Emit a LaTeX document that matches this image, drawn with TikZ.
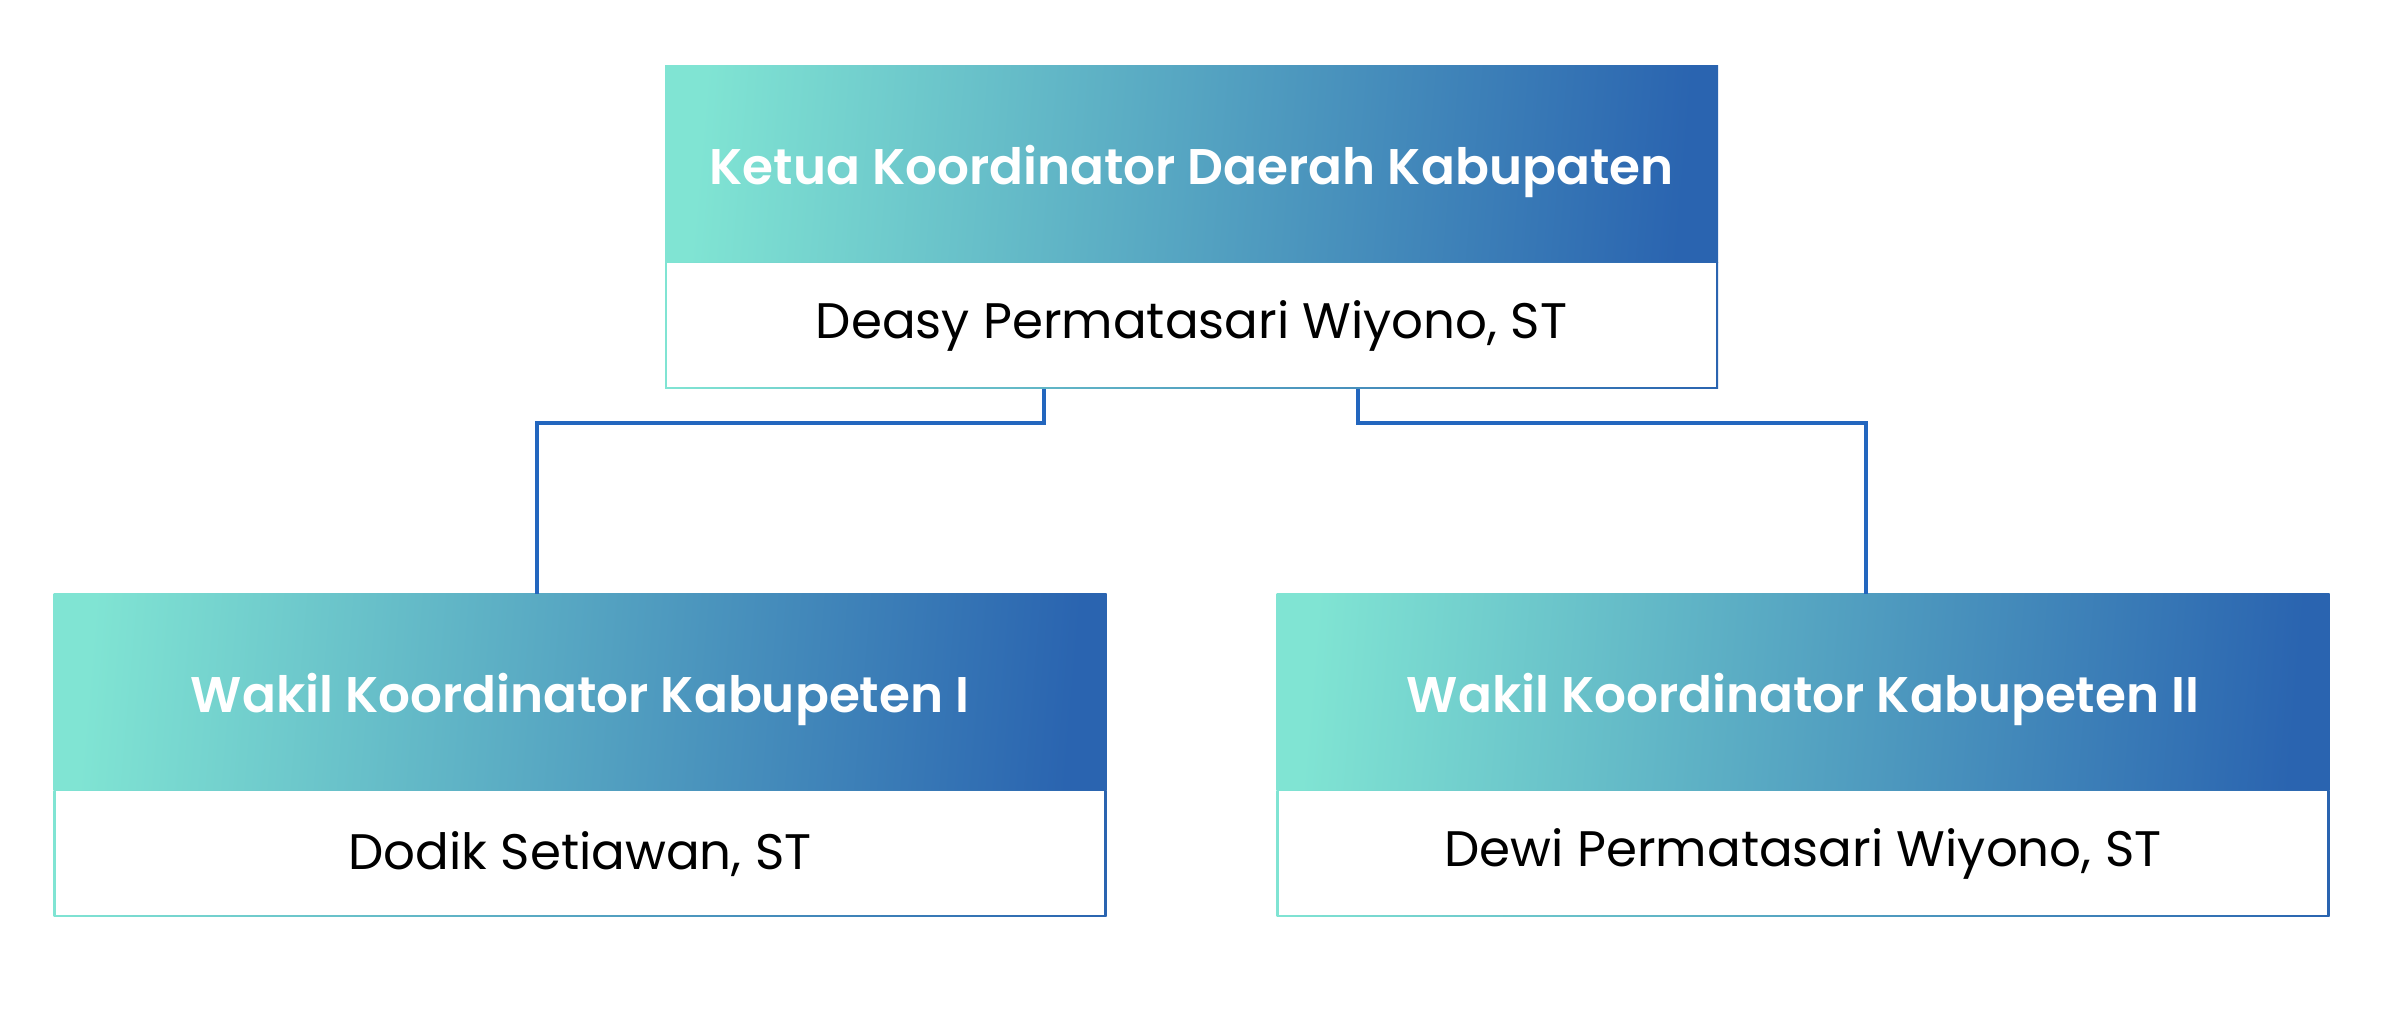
\documentclass[tikz,border=0pt]{standalone}
\usepackage{fontspec}
\setmainfont{Poppins}[BoldFont={Poppins SemiBold}]
\usepackage{tikz}
\usetikzlibrary{positioning}

\definecolor{tosca}{HTML}{80E4D3}
\definecolor{biru}{HTML}{2A64B0}
\definecolor{garis}{HTML}{2366BE}

\tikzset{
  judul/.style={rectangle, inner sep=0pt, outer sep=0pt,
    minimum width=10.53cm, minimum height=1.97cm, text depth=0pt,
    left color=tosca, right color=biru, shading angle=85,
    text=white, font=\fontsize{14.25}{18}\selectfont\bfseries},
  nama/.style={rectangle, inner sep=0pt, outer sep=0pt,
    minimum width=10.53cm, minimum height=1.26cm,
    font=\fontsize{14.2}{18}\selectfont,
    path picture={
      \shade[left color=tosca, right color=biru]
        (path picture bounding box.south west) rectangle (path picture bounding box.north east);
      \fill[white] ([shift={(0.6pt,0.6pt)}]path picture bounding box.south west)
        rectangle ([shift={(-0.6pt,0pt)}]path picture bounding box.north east);
    }},
  hubung/.style={draw=garis, line width=0.9pt}
}

\begin{document}
\begin{tikzpicture}
  \useasboundingbox[fill=white] (0,0) rectangle (23.81,10.28);

  % ketua
  \node[judul] (ketua) at (11.915,8.635) {Ketua Koordinator Daerah Kabupaten};
  \node[nama, below=0pt of ketua] (ketuaNama) {Deasy Permatasari Wiyono, ST};

  % wakil
  \node[judul] (wakilA) at (5.80,3.355) {Wakil Koordinator Kabupeten I};
  \node[nama, below=0pt of wakilA] (wakilANama) {Dodik Setiawan, ST};

  \node[judul] (wakilB) at (18.03,3.355) {Wakil Koordinator Kabupeten II};
  \node[nama, below=0pt of wakilB] (wakilBNama) {Dewi Permatasari Wiyono, ST};

  % garis penghubung
  \coordinate (tengah) at (0,6.05);
  \coordinate (kiriAtas) at (10.44,6.39);
  \coordinate (kananAtas) at (13.58,6.39);
  \coordinate (kiriBawah) at (5.37,4.34);
  \coordinate (kananBawah) at (18.66,4.34);

  \draw[hubung] (kiriAtas) -- (kiriAtas |- tengah) -| (kiriBawah);
  \draw[hubung] (kananAtas) -- (kananAtas |- tengah) -| (kananBawah);
\end{tikzpicture}
\end{document}
